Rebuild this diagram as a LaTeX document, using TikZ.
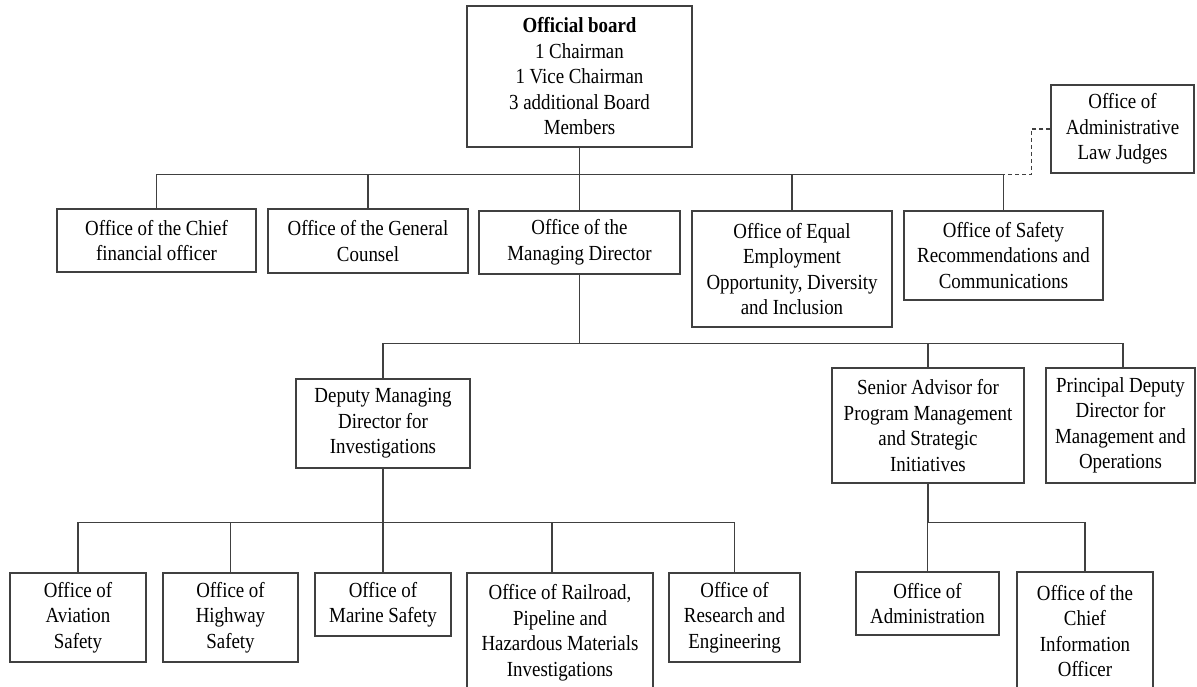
\documentclass[tikz,border=0pt]{standalone}
\usepackage{fontspec}
\setmainfont{Liberation Serif}[FakeStretch=0.88]
\begin{document}
\begin{tikzpicture}[x=1pt,y=-1pt,
  box/.style={draw=linegray,line width=1.2pt,inner sep=0pt,align=center,
    text=black,font=\fontsize{21.5}{25.5}\selectfont,
    execute at begin node={\spaceskip=4.6pt\relax}},
  link/.style={draw=linegray,line width=1.2pt},
  dashlink/.style={link,dash pattern=on 4pt off 3pt}]
\definecolor{linegray}{HTML}{404040}
\clip (0,0) rectangle (1197,687);
\fill[white] (0,0) rectangle (1197,687);

% board and its staff offices
\node[box,minimum width=225pt,minimum height=141pt,text width=220pt] (board) at (579.5,76.5)
  {\textbf{Official board}\\1 Chairman\\1 Vice Chairman\\3 additional Board\\Members};
\node[box,minimum width=143pt,minimum height=88pt,text width=140pt] (alj) at (1122.5,129)
  {Office of\\Administrative\\Law Judges};
\node[box,minimum width=199pt,minimum height=63pt,text width=195pt] (cfo) at (156.5,240.5)
  {Office of the Chief\\financial officer};
\node[box,minimum width=200pt,minimum height=64pt,text width=196pt] (gc) at (368,241)
  {Office of the General\\Counsel};
\node[box,minimum width=201pt,minimum height=63pt,text width=197pt] (md) at (579.5,242.5)
  {Office of the\\Managing Director};
\node[box,minimum width=200pt,minimum height=116pt,text width=196pt] (eeo) at (792,269)
  {Office of Equal\\Employment\\Opportunity, Diversity\\and Inclusion};
\node[box,minimum width=199pt,minimum height=89pt,text width=195pt] (src) at (1003.5,255.5)
  {Office of Safety\\Recommendations and\\Communications};

% managing director's deputies
\node[box,minimum width=174pt,minimum height=89pt,text width=170pt] (dmd) at (383,423.5)
  {Deputy Managing\\Director for\\Investigations};
\node[box,minimum width=192pt,minimum height=115pt,text width=188pt] (sa) at (928,425.5)
  {Senior Advisor for\\Program Management\\and Strategic\\Initiatives};
\node[box,minimum width=149pt,minimum height=115pt,text width=146pt] (pdd) at (1120.5,425.5)
  {Principal Deputy\\Director for\\Management and\\Operations};

% investigation offices
\node[box,minimum width=136pt,minimum height=89pt,text width=132pt] (avi) at (78,617.5)
  {Office of\\Aviation\\Safety};
\node[box,minimum width=135pt,minimum height=89pt,text width=131pt] (hwy) at (230.5,617.5)
  {Office of\\Highway\\Safety};
\node[box,minimum width=136pt,minimum height=63pt,text width=132pt] (mar) at (383,604.5)
  {Office of\\Marine Safety};
\node[box,minimum width=186pt,minimum height=119pt,text width=182pt] (rr) at (560,632.5)
  {Office of Railroad,\\Pipeline and\\Hazardous Materials\\Investigations};
\node[box,minimum width=131pt,minimum height=89pt,text width=127pt] (res) at (734.5,617.5)
  {Office of\\Research and\\Engineering};

% senior advisor's offices
\node[box,minimum width=143pt,minimum height=63pt,text width=139pt] (adm) at (927.5,603.5)
  {Office of\\Administration};
\node[box,minimum width=136pt,minimum height=118pt,text width=132pt] (cio) at (1085,631)
  {Office of the\\Chief\\Information\\Officer};

% board tier
\draw[link] (board.south) -- ++(0,27) coordinate (j1);
\foreach \n in {cfo,gc,md,eeo,src} \draw[link] (\n.north) |- (j1);
\draw[dashlink] (alj.west) -- ++(-19,0) |- (src.north |- j1);

% managing director tier
\draw[link] (md.south) -- ++(0,69) coordinate (j2);
\foreach \n in {dmd,sa} \draw[link] (\n.north) |- (j2);
\draw[link] ([xshift=2.5pt]pdd.north) |- (j2);

% investigations tier
\draw[link] (dmd.south) -- ++(0,54) coordinate (j3);
\foreach \n in {avi,hwy,mar,res} \draw[link] (\n.north) |- (j3);
\draw[link] ([xshift=-8pt]rr.north) |- (j3);

% senior advisor tier
\draw[link] (sa.south) -- ++(0,39) coordinate (j4);
\foreach \n in {adm,cio} \draw[link] (\n.north) |- (j4);
\end{tikzpicture}
\end{document}
